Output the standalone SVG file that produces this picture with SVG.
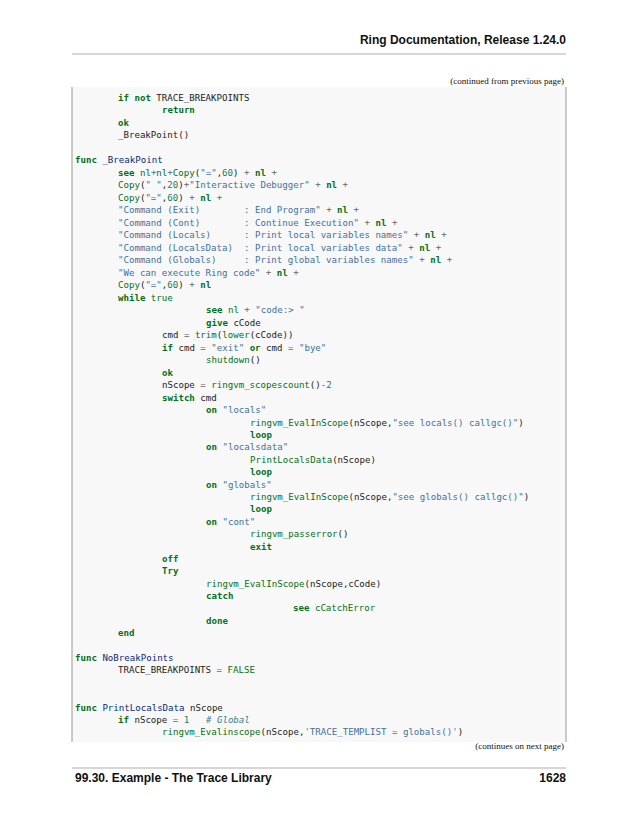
<svg xmlns="http://www.w3.org/2000/svg" width="638" height="825" viewBox="0 0 638 825" xml:space="preserve">
<style>
.c{font-family:"DejaVu Sans Mono",monospace;font-size:9.1px;fill:#222;white-space:pre}
.k{fill:#007020;font-weight:bold}
.b{fill:#007020}
.s{fill:#4070a0}
.f{fill:#06287e}
.n{fill:#208050}
.o{fill:#666}
.m{fill:#408090;font-style:italic}
.h{font-family:"Liberation Sans",sans-serif;font-weight:bold;font-size:12px;fill:#111}
.sm{font-family:"Liberation Serif",serif;font-size:9px;fill:#111}
</style>
<rect width="638" height="825" fill="#fff"/>
<text class="h" x="566" y="44" text-anchor="end">Ring Documentation, Release 1.24.0</text>
<line x1="72" y1="54" x2="566" y2="54" stroke="#999" stroke-width="0.8"/>
<text class="sm" x="564" y="84" text-anchor="end">(continued from previous page)</text>
<g id="codebox">
<rect x="72" y="87" width="494" height="655" fill="#f8f8f8"/>
<line x1="72" y1="87" x2="72" y2="742" stroke="#999" stroke-width="1"/>
<line x1="566" y1="87" x2="566" y2="742" stroke="#999" stroke-width="1"/>
</g>
<g id="code" class="c">
<text x="118" y="101"><tspan class="k">if</tspan> <tspan class="k">not</tspan> TRACE_BREAKPOINTS</text>
<text x="162" y="113"><tspan class="k">return</tspan></text>
<text x="118" y="126"><tspan class="k">ok</tspan></text>
<text x="118" y="138">_BreakPoint()</text>
<text x="75" y="163"><tspan class="k">func</tspan> <tspan class="f">_BreakPoint</tspan></text>
<text x="118" y="176"><tspan class="k">see</tspan> <tspan class="b">nl</tspan><tspan class="o">+</tspan><tspan class="b">nl</tspan><tspan class="o">+</tspan><tspan class="b">Copy</tspan>(<tspan class="s">"="</tspan>,<tspan class="n">60</tspan>) <tspan class="o">+</tspan> <tspan class="k">nl</tspan> <tspan class="o">+</tspan></text>
<text x="118" y="188"><tspan class="b">Copy</tspan>(<tspan class="s">"&#160;"</tspan>,<tspan class="n">20</tspan>)<tspan class="o">+</tspan><tspan class="s">"Interactive Debugger"</tspan> <tspan class="o">+</tspan> <tspan class="k">nl</tspan> <tspan class="o">+</tspan></text>
<text x="118" y="201"><tspan class="b">Copy</tspan>(<tspan class="s">"="</tspan>,<tspan class="n">60</tspan>) <tspan class="o">+</tspan> <tspan class="k">nl</tspan> <tspan class="o">+</tspan></text>
<text x="118" y="213"><tspan class="s">"Command (Exit)</tspan><tspan class="s" x="244">: End Program"</tspan> <tspan class="o">+</tspan> <tspan class="k">nl</tspan> <tspan class="o">+</tspan></text>
<text x="118" y="226"><tspan class="s">"Command (Cont)</tspan><tspan class="s" x="244">: Continue Execution"</tspan> <tspan class="o">+</tspan> <tspan class="k">nl</tspan> <tspan class="o">+</tspan></text>
<text x="118" y="238"><tspan class="s">"Command (Locals)</tspan><tspan class="s" x="244">: Print local variables names"</tspan> <tspan class="o">+</tspan> <tspan class="k">nl</tspan> <tspan class="o">+</tspan></text>
<text x="118" y="251"><tspan class="s">"Command (LocalsData)</tspan><tspan class="s" x="244">: Print local variables data"</tspan> <tspan class="o">+</tspan> <tspan class="k">nl</tspan> <tspan class="o">+</tspan></text>
<text x="118" y="263"><tspan class="s">"Command (Globals)</tspan><tspan class="s" x="244">: Print global variables names"</tspan> <tspan class="o">+</tspan> <tspan class="k">nl</tspan> <tspan class="o">+</tspan></text>
<text x="118" y="276"><tspan class="s">"We can execute Ring code"</tspan> <tspan class="o">+</tspan> <tspan class="k">nl</tspan> <tspan class="o">+</tspan></text>
<text x="118" y="288"><tspan class="b">Copy</tspan>(<tspan class="s">"="</tspan>,<tspan class="n">60</tspan>) <tspan class="o">+</tspan> <tspan class="k">nl</tspan></text>
<text x="118" y="301"><tspan class="k">while</tspan> <tspan class="b">true</tspan></text>
<text x="206" y="313"><tspan class="k">see</tspan> <tspan class="b">nl</tspan> <tspan class="o">+</tspan> <tspan class="s">"code:&gt;&#160;"</tspan></text>
<text x="206" y="326"><tspan class="k">give</tspan> cCode</text>
<text x="162" y="338">cmd <tspan class="o">=</tspan> <tspan class="b">trim</tspan>(<tspan class="b">lower</tspan>(cCode))</text>
<text x="162" y="351"><tspan class="k">if</tspan> cmd <tspan class="o">=</tspan> <tspan class="s">"exit"</tspan> <tspan class="k">or</tspan> cmd <tspan class="o">=</tspan> <tspan class="s">"bye"</tspan></text>
<text x="206" y="363"><tspan class="b">shutdown</tspan>()</text>
<text x="162" y="376"><tspan class="k">ok</tspan></text>
<text x="162" y="388">nScope <tspan class="o">=</tspan> <tspan class="b">ringvm_scopescount</tspan>()<tspan class="o">-</tspan><tspan class="n">2</tspan></text>
<text x="162" y="401"><tspan class="k">switch</tspan> cmd</text>
<text x="206" y="413"><tspan class="k">on</tspan> <tspan class="s">"locals"</tspan></text>
<text x="250" y="426"><tspan class="b">ringvm_EvalInScope</tspan>(nScope,<tspan class="s">"see locals() callgc()"</tspan>)</text>
<text x="250" y="438"><tspan class="k">loop</tspan></text>
<text x="206" y="450"><tspan class="k">on</tspan> <tspan class="s">"localsdata"</tspan></text>
<text x="250" y="463"><tspan class="b">PrintLocalsData</tspan>(nScope)</text>
<text x="250" y="475"><tspan class="k">loop</tspan></text>
<text x="206" y="488"><tspan class="k">on</tspan> <tspan class="s">"globals"</tspan></text>
<text x="250" y="500"><tspan class="b">ringvm_EvalInScope</tspan>(nScope,<tspan class="s">"see globals() callgc()"</tspan>)</text>
<text x="250" y="512"><tspan class="k">loop</tspan></text>
<text x="206" y="525"><tspan class="k">on</tspan> <tspan class="s">"cont"</tspan></text>
<text x="250" y="537"><tspan class="b">ringvm_passerror</tspan>()</text>
<text x="250" y="550"><tspan class="k">exit</tspan></text>
<text x="162" y="562"><tspan class="k">off</tspan></text>
<text x="162" y="574"><tspan class="k">Try</tspan></text>
<text x="206" y="587"><tspan class="b">ringvm_EvalInScope</tspan>(nScope,cCode)</text>
<text x="206" y="599"><tspan class="k">catch</tspan></text>
<text x="293" y="611"><tspan class="k">see</tspan> <tspan class="b">cCatchError</tspan></text>
<text x="206" y="624"><tspan class="k">done</tspan></text>
<text x="118" y="636"><tspan class="k">end</tspan></text>
<text x="75" y="661"><tspan class="k">func</tspan> <tspan class="f">NoBreakPoints</tspan></text>
<text x="118" y="673">TRACE_BREAKPOINTS <tspan class="o">=</tspan> <tspan class="b">FALSE</tspan></text>
<text x="75" y="711"><tspan class="k">func</tspan> <tspan class="f">PrintLocalsData</tspan> nScope</text>
<text x="118" y="723"><tspan class="k">if</tspan> nScope <tspan class="o">=</tspan> <tspan class="n">1</tspan><tspan class="m" x="206">#&#160;Global</tspan></text>
<text x="162" y="735"><tspan class="b">ringvm_Evalinscope</tspan>(nScope,<tspan class="s">'TRACE_TEMPLIST = globals()'</tspan>)</text>
</g>
<text class="sm" x="564" y="749" text-anchor="end">(continues on next page)</text>
<line x1="72" y1="768" x2="566" y2="768" stroke="#999" stroke-width="0.8"/>
<text class="h" x="75" y="782">99.30. Example - The Trace Library</text>
<text class="h" x="566" y="782" text-anchor="end">1628</text>
</svg>
